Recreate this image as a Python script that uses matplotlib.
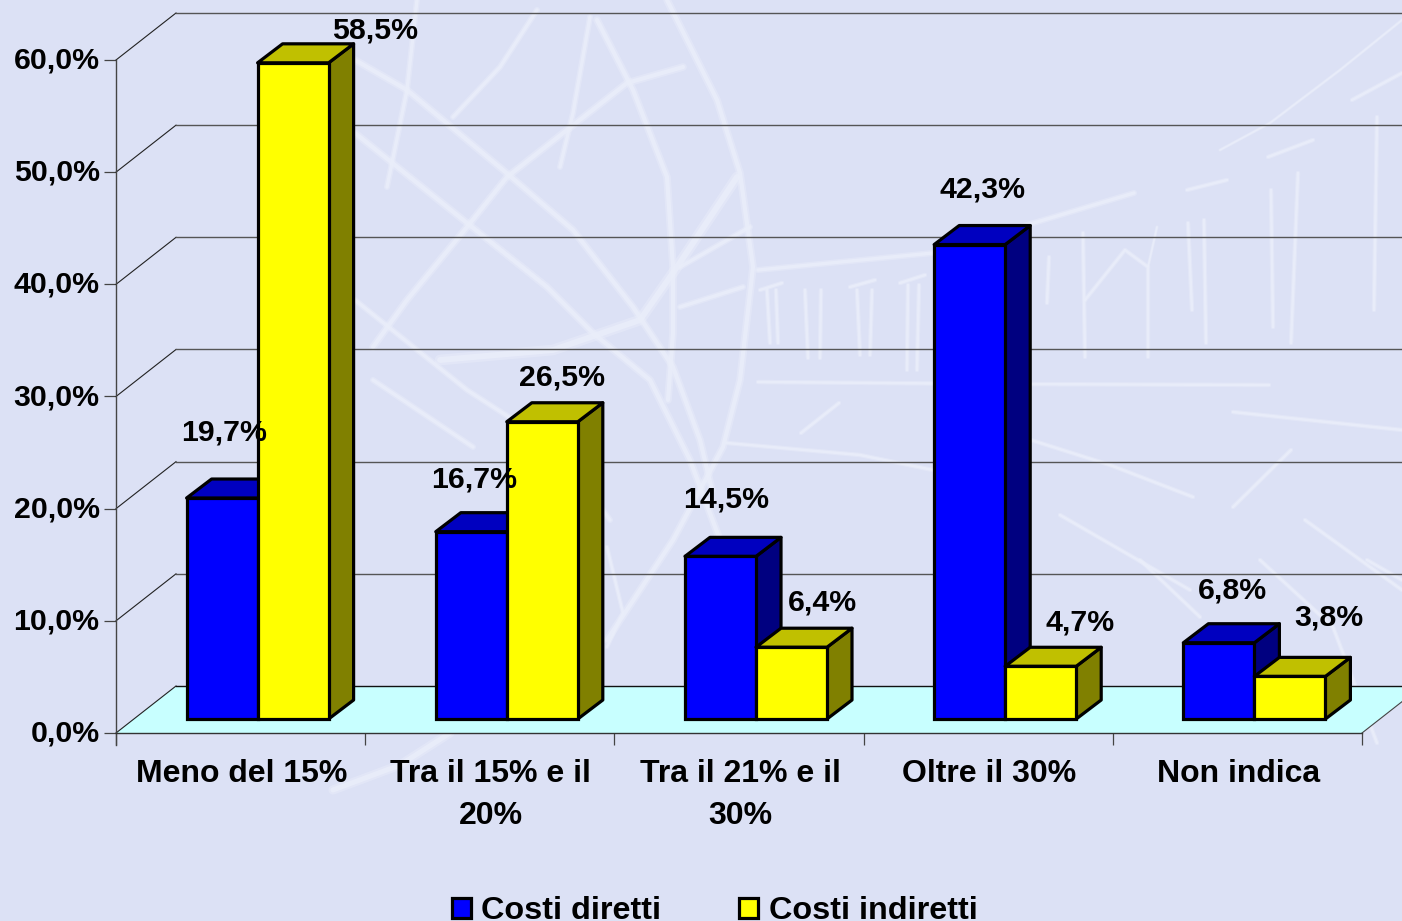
import matplotlib
matplotlib.use("Agg")
import matplotlib.pyplot as plt
from matplotlib.patches import Patch, Polygon
from matplotlib.transforms import ScaledTranslation

plt.rcParams["font.family"] = ["Liberation Sans", "DejaVu Sans"]
plt.rcParams["font.weight"] = "bold"

W, H = 1402, 921

categories = ["Meno del 15%", "Tra il 15% e il\n20%", "Tra il 21% e il\n30%", "Oltre il 30%", "Non indica"]
costi_diretti = [19.7, 16.7, 14.5, 42.3, 6.8]
costi_indiretti = [58.5, 26.5, 6.4, 4.7, 3.8]
diretti_labels = ["19,7%", "16,7%", "14,5%", "42,3%", "6,8%"]
indiretti_labels = ["58,5%", "26,5%", "6,4%", "4,7%", "3,8%"]
y_ticks = [0, 10, 20, 30, 40, 50, 60]
y_labels = ["0,0%", "10,0%", "20,0%", "30,0%", "40,0%", "50,0%", "60,0%"]

# label offsets from the top centre of the front face, in pixels (x right, y up)
diretti_off = [(2, 66), (3, 52), (6, 57), (13, 55), (14, 52)]
indiretti_off = [(82, 32), (20, 44), (31, 45), (39, 44), (39, 59)]

BG = "#DCE1F5"
SKETCH = "#EAEEFA"

# faint hand drawn sketch behind the chart, figure pixels, (width, points)
sketch = [
    (5, [(355, 60), (407, 90), (503, 170), (573, 230), (633, 307), (673, 367), (700, 440), (712, 490)]),
    (5, [(355, 133), (467, 223), (547, 287), (593, 333), (650, 380), (690, 460), (720, 540)]),
    (5, [(683, 67), (627, 83), (507, 177), (467, 227), (407, 300), (373, 347)]),
    (4, [(417, 0), (407, 90), (387, 187)]),
    (4, [(537, 10), (500, 67), (453, 117)]),
    (4, [(590, 17), (573, 113), (560, 167)]),
    (5, [(597, 20), (633, 90), (667, 177), (673, 267), (673, 333), (668, 400)]),
    (5, [(667, 0), (717, 100), (740, 173), (753, 267), (740, 380), (723, 447), (673, 540), (607, 640)]),
    (7, [(737, 177), (677, 267), (640, 320), (553, 350), (440, 360)]),
    (4, [(750, 227), (680, 267)]),
    (4, [(743, 287), (680, 307)]),
    (4, [(355, 300), (467, 390), (560, 450), (610, 520)]),
    (4, [(373, 380), (473, 447)]),
    (3, [(607, 547), (623, 613), (607, 647)]),
    (6, [(450, 733), (400, 765), (333, 790)]),
    (4, [(758, 270), (933, 253), (1134, 193)]),
    (3, [(758, 382), (1000, 384), (1269, 385)]),
    (3, [(727, 443), (860, 455), (933, 470)]),
    (3, [(1031, 440), (1110, 465), (1193, 497)]),
    (3, [(1233, 412), (1402, 430)]),
    (3, [(1291, 450), (1233, 507)]),
    (3, [(839, 403), (801, 433)]),
    (3, [(1060, 515), (1190, 590)]),
    (3, [(1305, 520), (1402, 590)]),
    (3, [(1140, 560), (1200, 617)]),
    (3, [(1260, 560), (1333, 627), (1377, 743)]),
    (3, [(1367, 560), (1402, 580)]),
    (2, [(1220, 150), (1270, 123), (1340, 70), (1402, 20)]),
    (3, [(1352, 100), (1402, 73)]),
    (3, [(1268, 157), (1313, 140)]),
    (3, [(1187, 190), (1227, 180)]),
    (3, [(1085, 357), (1083, 233)]),
    (3, [(1085, 300), (1125, 250), (1148, 267), (1148, 357)]),
    (2, [(1148, 267), (1157, 227)]),
    (3, [(767, 290), (770, 343)]), (3, [(776, 290), (778, 343)]),
    (3, [(805, 290), (808, 358)]), (3, [(821, 290), (820, 358)]),
    (3, [(857, 290), (860, 355)]), (3, [(872, 290), (870, 355)]),
    (3, [(908, 285), (907, 370)]), (3, [(919, 285), (917, 370)]),
    (3, [(760, 290), (782, 283)]), (3, [(850, 287), (875, 280)]),
    (3, [(900, 283), (925, 275)]),
    (3, [(1049, 257), (1047, 303)]),
    (3, [(1188, 223), (1192, 310)]), (3, [(1204, 220), (1206, 343)]),
    (3, [(1271, 190), (1273, 327)]), (3, [(1298, 173), (1291, 343)]),
    (3, [(1377, 117), (1374, 310)]),
]

fig = plt.figure(figsize=(W / 100, H / 100), dpi=100, facecolor=BG)

bg = fig.add_axes([0, 0, 1, 1], zorder=0)
bg.set_xlim(0, W)
bg.set_ylim(H, 0)
bg.axis("off")
for lw, pts in sketch:
    xs = [p[0] for p in pts]
    ys = [p[1] for p in pts]
    # wide soft pass plus a narrower one, the original is a blurred stroke
    bg.plot(xs, ys, color=SKETCH, lw=lw * 1.1, alpha=0.45, solid_capstyle="round", solid_joinstyle="round")
    bg.plot(xs, ys, color=SKETCH, lw=lw * 0.6, alpha=0.8, solid_capstyle="round", solid_joinstyle="round")

# the axes is the front plane of the 3D box
ax = fig.add_axes([116 / W, 1 - 733 / H, 1246 / W, 673 / H], zorder=1)
ax.patch.set_alpha(0)
ax.set_xlim(0, 5)
ax.set_ylim(0, 60)
px_x = 5 / 1246
px_y = 60 / 673


def shift(x, y, dx, dy):
    return x + dx * px_x, y + dy * px_y


# floor and walls
fx, fy = 60, 47
floor = Polygon([(0, 0), (5, 0), shift(5, 0, fx, fy), shift(0, 0, fx, fy)],
                closed=True, fc="#C8FFFF", ec="none", clip_on=False, zorder=1)
ax.add_patch(floor)
for v in y_ticks:
    bx, by = shift(0, v, fx, fy)
    ax.plot([0, bx], [v, by], color="#222222", lw=0.8, clip_on=False, zorder=2)
    ax.plot([bx, shift(5, 0, fx, 0)[0]], [by, by], color="#111111" if v == 0 else "#555555",
            lw=1.0, clip_on=False, zorder=2)
rx, ry = shift(5, 0, fx, fy)
ax.plot([5, rx], [0, ry], color="#444444", lw=0.8, clip_on=False, zorder=2)

# bars: front face sits part way into the floor
front_dx, front_dy = 17, 14
depth_dx, depth_dy = 25, 19
bar_w = 71 * px_x


def bar3d(left, value, face, top, side, z):
    y0 = front_dy * px_y
    y1 = y0 + value
    x1 = left + bar_w
    # round joins, miter leaves spikes on the sharp corners of the top face
    style = dict(ec="black", lw=2.3, joinstyle="round", clip_on=False, zorder=z)
    ax.add_patch(Polygon([(x1, y0), shift(x1, y0, depth_dx, depth_dy), shift(x1, y1, depth_dx, depth_dy), (x1, y1)],
                         closed=True, fc=side, **style))
    ax.add_patch(Polygon([(left, y1), (x1, y1), shift(x1, y1, depth_dx, depth_dy), shift(left, y1, depth_dx, depth_dy)],
                         closed=True, fc=top, **style))
    ax.bar(left, value, width=bar_w, bottom=y0, align="edge", color=face, edgecolor="black",
           linewidth=2.3, clip_on=False, zorder=z + 0.1)
    return left + bar_w / 2, y1


for i in range(len(categories)):
    mid = i + 0.5 + front_dx * px_x
    cx, cy = bar3d(mid - bar_w, costi_diretti[i], "#0000FF", "#0000C0", "#000080", 3 + i * 0.5)
    ax.annotate(diretti_labels[i], (cx, cy), xytext=(diretti_off[i][0] * 0.72, diretti_off[i][1] * 0.72),
                textcoords="offset points", ha="center", va="center", fontsize=21.8, color="black",
                annotation_clip=False, zorder=10)
    cx, cy = bar3d(mid, costi_indiretti[i], "#FFFF00", "#C0C000", "#808000", 3.2 + i * 0.5)
    ax.annotate(indiretti_labels[i], (cx, cy), xytext=(indiretti_off[i][0] * 0.72, indiretti_off[i][1] * 0.72),
                textcoords="offset points", ha="center", va="center", fontsize=21.8, color="black",
                annotation_clip=False, zorder=10)

# axes furniture
for s in ["top", "right"]:
    ax.spines[s].set_visible(False)
ax.spines["left"].set_color("#444444")
ax.spines["left"].set_linewidth(1.0)
ax.spines["left"].set_bounds(-12 * px_y, 60)
ax.spines["bottom"].set_color("#333333")
ax.spines["bottom"].set_linewidth(1.0)
ax.set_yticks(y_ticks)
ax.set_yticklabels(y_labels, fontsize=21.8, fontweight="bold")
ax.tick_params(axis="y", length=8.6, width=0.9, color="#444444", pad=2.5)
# labels sit a little above their ticks in the original
up = ScaledTranslation(-1 / 100, 2.5 / 100, fig.dpi_scale_trans)
for lab in ax.get_yticklabels():
    lab.set_transform(lab.get_transform() + up)
ax.set_xticks(range(6))
ax.set_xticklabels([])
ax.tick_params(axis="x", which="major", length=8.6, width=0.9, color="#444444")
ax.set_xticks([i + 0.5 + 1 * px_x for i in range(5)], minor=True)
ax.set_xticklabels(categories, minor=True, fontsize=23, fontweight="bold", linespacing=1.52)
ax.tick_params(axis="x", which="minor", length=0, pad=18.5)

handles = [Patch(fc="#0000FF", ec="black", lw=2.3), Patch(fc="#FFFF00", ec="black", lw=2.3)]
fig.legend(handles, ["Costi diretti", "Costi indiretti"], ncol=2, frameon=False, fontsize=23.3,
           loc="lower left", bbox_to_anchor=(452 / W, -5 / H), borderpad=0, borderaxespad=0,
           handlelength=0.58, handleheight=0.58, handletextpad=0.32, columnspacing=2.42)

fig.savefig("out.png", dpi=100, facecolor=BG)
